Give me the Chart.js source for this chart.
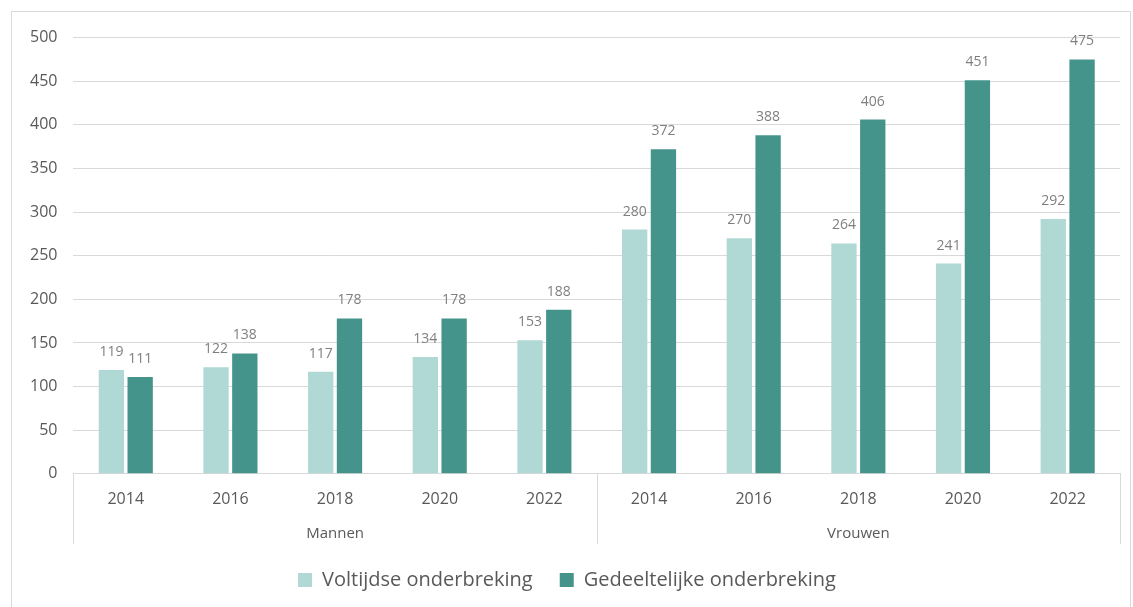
<!DOCTYPE html>
<html>
<head>
<meta charset="utf-8">
<script src="https://cdn.jsdelivr.net/npm/chart.js@4.4.1/dist/chart.umd.min.js"></script>
<style>
  body { margin: 0; background: #fff; }
  #wrap { position: absolute; left: 11px; top: 11px; width: 1120px; height: 600px; border: 1px solid #d9d9d9; box-sizing: border-box; }
</style>
</head>
<body>
<div id="wrap"><canvas id="chart"></canvas></div>
<script>
    // chart data
    const years = ['2014', '2016', '2018', '2020', '2022', '2014', '2016', '2018', '2020', '2022'];
    const groups = ['Mannen', 'Vrouwen'];
    const voltijds = [119, 122, 117, 134, 153, 280, 270, 264, 241, 292];
    const gedeeltelijk = [111, 138, 178, 178, 188, 372, 388, 406, 451, 475];

    const textGrey = '#595959';
    const FONT = "'Open Sans', 'Liberation Sans', sans-serif";

    // value labels above the bars
    const valueLabels = {
        id: 'valueLabels',
        afterDatasetsDraw(chart) {
            const ctx = chart.ctx;
            ctx.save();
            ctx.font = '14px ' + FONT;
            ctx.fillStyle = '#7f7f7f';
            ctx.textAlign = 'center';
            ctx.textBaseline = 'bottom';
            chart.data.datasets.forEach((ds, i) => {
                chart.getDatasetMeta(i).data.forEach((bar, j) => {
                    ctx.fillText(ds.data[j], bar.x, bar.y - 11);
                });
            });
            ctx.restore();
        }
    };

    // separators for the two group blocks under the axis
    const groupLines = {
        id: 'groupLines',
        afterDraw(chart) {
            const x = chart.scales.x;
            const x2 = chart.scales.x2;
            const ctx = chart.ctx;
            const mid = (x.getPixelForValue(4) + x.getPixelForValue(5)) / 2;
            ctx.save();
            ctx.strokeStyle = '#d9d9d9';
            ctx.lineWidth = 1;
            [x.left, mid, x.right].forEach(px => {
                ctx.beginPath();
                ctx.moveTo(Math.round(px) + 0.5, x.top);
                ctx.lineTo(Math.round(px) + 0.5, x2.bottom + 1);
                ctx.stroke();
            });
            ctx.restore();
        }
    };

    new Chart(document.getElementById('chart'), {
        type: 'bar',
        data: {
            labels: years,
            datasets: [
                {
                    label: 'Voltijdse onderbreking',
                    data: voltijds,
                    backgroundColor: '#b0d9d5',
                    categoryPercentage: 0.55,
                    barPercentage: 0.88
                },
                {
                    label: 'Gedeeltelijke onderbreking',
                    data: gedeeltelijk,
                    backgroundColor: '#45948c',
                    categoryPercentage: 0.55,
                    barPercentage: 0.88
                }
            ]
        },
        options: {
            responsive: true,
            maintainAspectRatio: false,
            animation: false,
            layout: { padding: { top: 20, left: 2, right: 10, bottom: 10 } },
            scales: {
                x: {
                    grid: { display: false, drawTicks: false },
                    border: { display: true, color: '#d9d9d9' },
                    ticks: { color: textGrey, font: { family: FONT, size: 16 }, padding: 16 }
                },
                x2: {
                    type: 'category',
                    labels: groups,
                    position: 'bottom',
                    offset: true,
                    grid: { display: false, drawTicks: false },
                    border: { display: false },
                    ticks: { color: textGrey, font: { family: FONT, size: 15 }, padding: 0 }
                },
                y: {
                    min: 0,
                    max: 500,
                    ticks: { stepSize: 50, color: textGrey, font: { family: FONT, size: 16 }, padding: 16 },
                    grid: { color: '#d9d9d9', drawTicks: false },
                    border: { display: false }
                }
            },
            plugins: {
                legend: {
                    position: 'bottom',
                    labels: {
                        color: textGrey,
                        font: { family: FONT, size: 20 },
                        boxWidth: 14,
                        boxHeight: 14,
                        padding: 27
                    }
                },
                tooltip: { enabled: false }
            }
        },
        plugins: [valueLabels, groupLines]
    });
</script>
</body>
</html>
